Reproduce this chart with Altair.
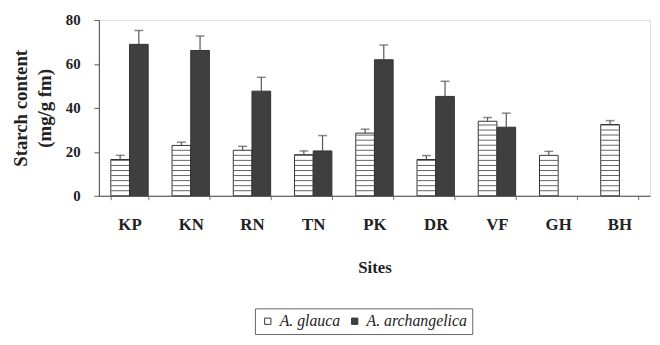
import altair as alt
import pandas as pd

sites = ["KP", "KN", "RN", "TN", "PK", "DR", "VF", "GH", "BH"]
series_names = ["A. glauca", "A. archangelica"]
glauca = [16.5, 22.9, 20.7, 18.7, 28.5, 16.5, 33.9, 18.4, 32.4]
glauca_err = [1.9, 1.5, 1.8, 1.7, 1.8, 1.8, 1.7, 1.8, 1.8]
arch = [68.9, 66.1, 47.6, 20.4, 61.9, 45.2, 31.2, None, None]
arch_err = [6.3, 6.6, 6.3, 7.0, 6.7, 6.9, 6.4, None, None]

rows = []
for i, s in enumerate(sites):
    rows.append(dict(site=s, series=series_names[0], value=glauca[i], err=glauca_err[i]))
    if arch[i] is not None:
        rows.append(dict(site=s, series=series_names[1], value=arch[i], err=arch_err[i]))
df = pd.DataFrame(rows)
df["top"] = df["value"] + df["err"]

FONT = "Liberation Serif"

x = alt.X(
    "site:N", sort=sites,
    scale=alt.Scale(paddingInner=0.39, paddingOuter=0.195),
    axis=alt.Axis(title="Sites", labelAngle=0, labelFont=FONT, labelFontWeight="bold",
                  labelFontSize=17, labelColor="#222", tickBand="extent", tickSize=4,
                  domainColor="#444", tickColor="#777", labelPadding=17,
                  titleFont=FONT, titleFontSize=17, titleFontWeight="bold",
                  titleColor="#222", titlePadding=28),
)
xo = alt.XOffset("series:N", sort=series_names)
y = alt.Y(
    "value:Q",
    scale=alt.Scale(domain=[0, 80]),
    axis=alt.Axis(values=[0, 20, 40, 60, 80], grid=False,
                  title=["Starch content", "(mg/g fm)"], titleFont=FONT,
                  titleFontSize=19, titleFontWeight="bold", titleColor="#222",
                  titleLineHeight=24,
                  labelFont=FONT, labelFontWeight="bold", labelFontSize=15,
                  labelColor="#222", tickSize=5, domainColor="#444", tickColor="#555",
                  labelPadding=14, titlePadding=11),
)
color = alt.Color(
    "series:N", sort=series_names,
    scale=alt.Scale(domain=series_names, range=["#ffffff", "#3f3f3f"]),
    legend=alt.Legend(orient="none", legendX=158, legendY=292, direction="horizontal",
                      title=None, strokeColor="#666", padding=5, symbolType="square",
                      symbolSize=40, symbolStrokeColor="#333", symbolStrokeWidth=1,
                      labelFont=FONT, labelFontStyle="italic", labelFontSize=16,
                      labelColor="#222", columnPadding=6, symbolOffset=0),
)

base = alt.Chart(df)
bars = base.mark_bar(stroke="#333", strokeWidth=1).encode(x=x, xOffset=xo, y=y, color=color)

stripes = base.transform_filter(
    alt.datum.series == series_names[0]
).transform_calculate(
    s="sequence(2.3, datum.value, 2.3)"
).transform_flatten(["s"]).mark_tick(color="#222", thickness=1, size=18).encode(
    x=x, xOffset=xo, y="s:Q"
)

rules = base.mark_rule(color="#555", strokeWidth=1.2).encode(x=x, xOffset=xo, y="value:Q", y2="top:Q")
caps = base.mark_tick(color="#555", thickness=1.5, size=9).encode(x=x, xOffset=xo, y="top:Q")

chart = alt.layer(bars, stripes, rules, caps).properties(
    width=558, height=178,
    autosize=alt.AutoSizeParams(type="none"),
    padding={"left": 92, "top": 10, "right": 2, "bottom": 150},
).configure_view(stroke=None).configure(background="white")

chart.save("out.html", embed_options={"renderer": "svg", "actions": False})
